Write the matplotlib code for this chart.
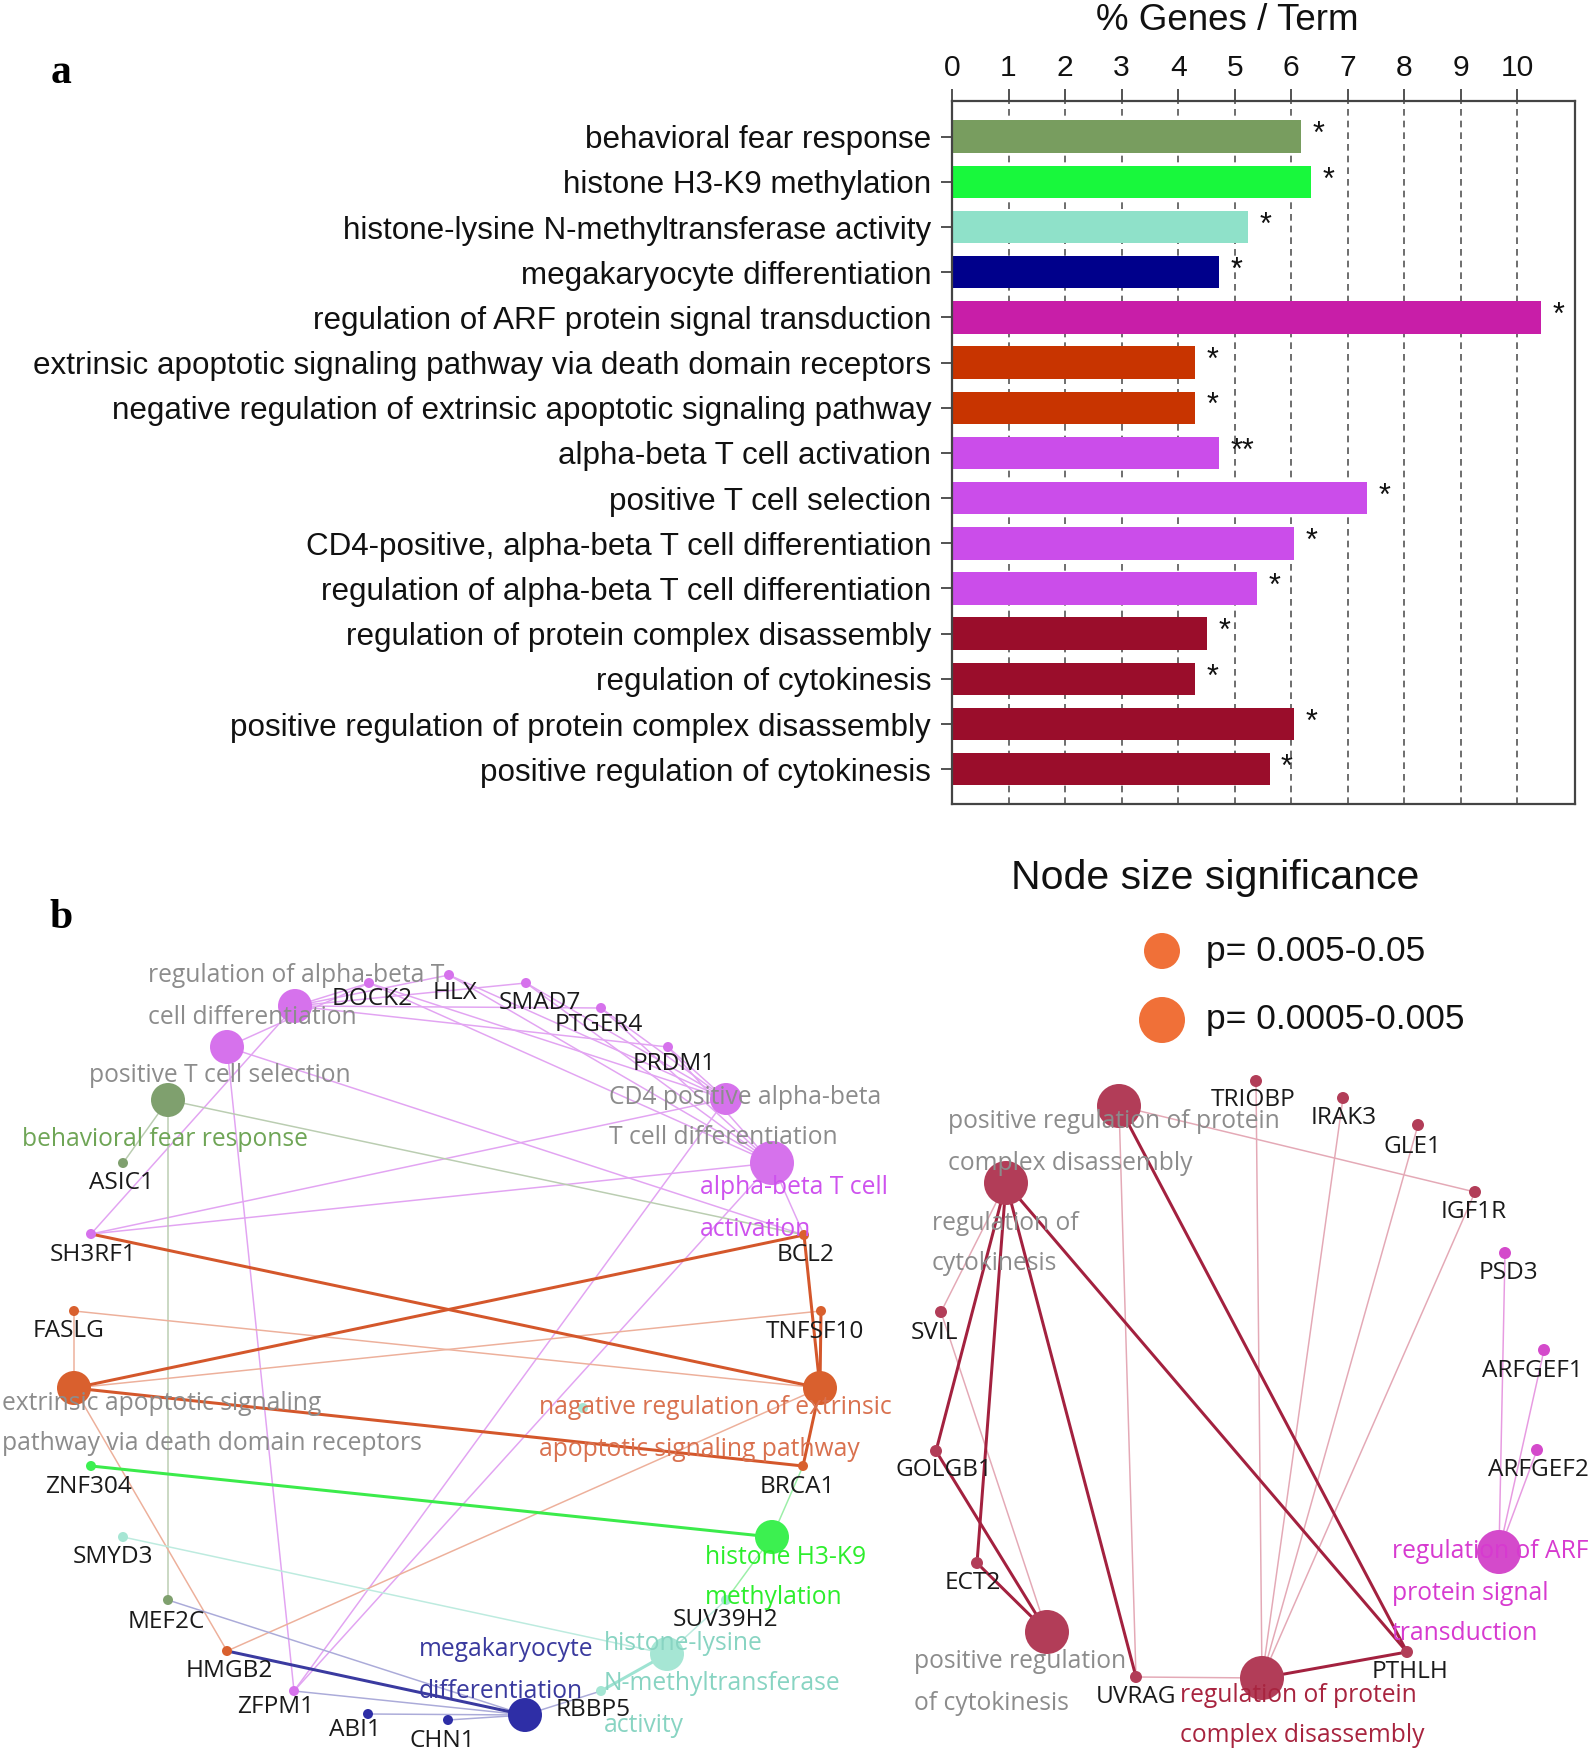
import matplotlib
matplotlib.use("Agg")
import matplotlib.pyplot as plt
import numpy as np

W, H, DPI = 1594, 1752, 100

# ---------------- Panel a data ----------------
terms = [
    "behavioral fear response",
    "histone H3-K9 methylation",
    "histone-lysine N-methyltransferase activity",
    "megakaryocyte differentiation",
    "regulation of ARF protein signal transduction",
    "extrinsic apoptotic signaling pathway via death domain receptors",
    "negative regulation of extrinsic apoptotic signaling pathway",
    "alpha-beta T cell activation",
    "positive T cell selection",
    "CD4-positive, alpha-beta T cell differentiation",
    "regulation of alpha-beta T cell differentiation",
    "regulation of protein complex disassembly",
    "regulation of cytokinesis",
    "positive regulation of protein complex disassembly",
    "positive regulation of cytokinesis",
]
pct_genes = [6.18, 6.35, 5.24, 4.73, 10.42, 4.30, 4.30, 4.73, 7.34, 6.05, 5.40, 4.51, 4.30, 6.05, 5.62]
stars = ["*", "*", "*", "*", "*", "*", "*", "**", "*", "*", "*", "*", "*", "*", "*"]
bar_colors = ["#789D5F", "#18F83C", "#8FE1C9", "#00008B", "#C81EA8", "#C83400", "#C83400",
              "#CB4DEA", "#CB4DEA", "#CB4DEA", "#CB4DEA", "#9A0D2B", "#9A0D2B", "#9A0D2B", "#9A0D2B"]
xticks = list(range(11))

# ---------------- Panel b data (network layout, pixel coordinates) ----------------
term_ids = ["reg_ab", "pos_T", "behav", "CD4", "ab_act", "extr", "neg", "h3k9", "hlys", "mega",
            "pos_reg_pcd", "reg_cyto", "pos_reg_cyto", "reg_pcd", "reg_ARF"]
term_x = [295, 227, 168, 726, 772, 74, 820, 772, 667, 525, 1119, 1006, 1047, 1262, 1499]
term_y = [1006, 1047, 1100, 1099, 1163, 1388, 1388, 1537, 1654, 1715, 1106, 1183, 1632, 1678, 1552]
term_r = [17, 17, 17, 16, 22, 17, 17, 17, 17, 17, 22, 22, 22, 22, 22]
term_node_col = ["#D672EC", "#D672EC", "#7FA06E", "#D672EC", "#D672EC", "#D9602E", "#D9602E",
                 "#3CF050", "#A6E6D4", "#2E2EA6", "#B23D58", "#B23D58", "#B23D58", "#B23D58", "#D44ACB"]
term_edge_col = ["#E2A4F2", "#E2A4F2", "#BACDB1", "#E2A4F2", "#E2A4F2", "#D4572B", "#D4572B",
                 "#3BEB4B", "#9EE3D2", "#3A3AA0", "#A3213F", "#A3213F", "#A3213F", "#A3213F", "#E79BE1"]
term_edge_light = ["#E2A4F2", "#E2A4F2", "#BACDB1", "#E2A4F2", "#E2A4F2", "#EDB09B", "#EDB09B",
                   "#9CEFA8", "#BDEBDF", "#ABABD9", "#E4A9B6", "#E4A9B6", "#E4A9B6", "#E4A9B6", "#E79BE1"]
term_lines = [
    ["regulation of alpha-beta T", "cell differentiation"],
    ["positive T cell selection"],
    ["behavioral fear response"],
    ["CD4 positive alpha-beta", "T cell differentiation"],
    ["alpha-beta T cell", "activation"],
    ["extrinsic apoptotic signaling", "pathway via death domain receptors"],
    ["nagative regulation of extrinsic", "apoptotic signaling pathway"],
    ["histone H3-K9", "methylation"],
    ["histone-lysine", "N-methyltransferase", "activity"],
    ["megakaryocyte", "differentiation"],
    ["positive regulation of protein", "complex disassembly"],
    ["regulation of", "cytokinesis"],
    ["positive regulation", "of cytokinesis"],
    ["regulation of protein", "complex disassembly"],
    ["regulation of ARF", "protein signal", "transduction"],
]
term_label_x = [148, 89, 22, 609, 700, 2, 539, 705, 604, 419, 948, 932, 914, 1180, 1392]
term_label_y = [976, 1076, 1139, 1097, 1188, 1403, 1408, 1557, 1643, 1650, 1122, 1223, 1662, 1695, 1552]
term_label_col = ["#8C8C8C", "#8C8C8C", "#6FA556", "#8C8C8C", "#CE52EE", "#8C8C8C", "#D9714F",
                  "#2CEE2C", "#88D4C2", "#3A3A9E", "#8C8C8C", "#8C8C8C", "#8C8C8C", "#A8243F", "#D73AD0"]

PUR, OLV, ORG, GRN, TEA, NAV, DRD, MAG = ("#D672EC", "#7FA06E", "#D9602E", "#3CF050",
                                          "#A6E6D4", "#2E2EA6", "#B23D58", "#D44ACB")
gene_ids = ["DOCK2", "HLX", "SMAD7", "PTGER4", "PRDM1", "ASIC1", "SH3RF1", "BCL2", "FASLG", "TNFSF10",
            "ZNF304", "BRCA1", "SMYD3", "MEF2C", "SUV39H2", "HMGB2", "ZFPM1", "ABI1", "CHN1", "RBBP5", "",
            "TRIOBP", "IRAK3", "GLE1", "IGF1R", "PSD3", "SVIL", "ARFGEF1", "ARFGEF2", "GOLGB1", "ECT2",
            "UVRAG", "PTHLH"]
gene_x = [369, 449, 526, 601, 668, 123, 91, 804, 74, 821,
          91, 803, 123, 168, 726, 227, 294, 368, 448, 601, 583,
          1256, 1343, 1418, 1475, 1505, 941, 1544, 1537, 936, 977,
          1136, 1407]
gene_y = [983, 975, 983, 1008, 1047, 1163, 1234, 1235, 1311, 1311,
          1466, 1466, 1537, 1600, 1600, 1651, 1691, 1714, 1720, 1691, 1408,
          1081, 1098, 1125, 1192, 1253, 1312, 1350, 1450, 1451, 1563,
          1677, 1652]
gene_col = [PUR, PUR, PUR, PUR, PUR, OLV, PUR, ORG, ORG, ORG,
            GRN, ORG, TEA, OLV, TEA, ORG, PUR, NAV, NAV, TEA, TEA,
            DRD, DRD, DRD, DRD, MAG, DRD, MAG, MAG, DRD, DRD,
            DRD, DRD]
gene_r = [5] * 21 + [6] * 12
gene_label_x = [372, 455, 540, 599, 674, 121, 93, 806, 69, 815,
                89, 797, 113, 166, 726, 229, 276, 355, 442, 593, 583,
                1253, 1344, 1412, 1474, 1508, 935, 1532, 1538, 944, 973,
                1136, 1410]
gene_label_y = [999, 993, 1003, 1025, 1064, 1183, 1255, 1255, 1331, 1332,
                1487, 1487, 1557, 1622, 1620, 1671, 1707, 1730, 1741, 1710, 1408,
                1100, 1118, 1147, 1212, 1273, 1333, 1371, 1470, 1470, 1583,
                1697, 1672]

edges = [
    ("reg_ab", "DOCK2", 0), ("reg_ab", "HLX", 0), ("reg_ab", "SMAD7", 0), ("reg_ab", "PTGER4", 0),
    ("reg_ab", "PRDM1", 0), ("reg_ab", "SH3RF1", 0),
    ("pos_T", "DOCK2", 0), ("pos_T", "BCL2", 0), ("pos_T", "ZFPM1", 0),
    ("CD4", "DOCK2", 0), ("CD4", "HLX", 0), ("CD4", "SMAD7", 0), ("CD4", "PTGER4", 0), ("CD4", "PRDM1", 0),
    ("CD4", "SH3RF1", 0), ("CD4", "ZFPM1", 0),
    ("ab_act", "DOCK2", 0), ("ab_act", "HLX", 0), ("ab_act", "SMAD7", 0), ("ab_act", "PTGER4", 0),
    ("ab_act", "PRDM1", 0), ("ab_act", "SH3RF1", 0), ("ab_act", "ZFPM1", 0), ("ab_act", "BCL2", 0),
    ("behav", "ASIC1", 0), ("behav", "MEF2C", 0), ("behav", "BCL2", 0),
    ("extr", "FASLG", 0), ("extr", "BCL2", 1), ("extr", "TNFSF10", 0), ("extr", "BRCA1", 1), ("extr", "HMGB2", 0),
    ("neg", "SH3RF1", 1), ("neg", "FASLG", 0), ("neg", "BCL2", 1), ("neg", "TNFSF10", 1), ("neg", "BRCA1", 1),
    ("neg", "HMGB2", 0),
    ("h3k9", "ZNF304", 1), ("h3k9", "BRCA1", 0), ("h3k9", "SUV39H2", 0),
    ("hlys", "SMYD3", 0), ("hlys", "SUV39H2", 0), ("hlys", "RBBP5", 1),
    ("mega", "MEF2C", 0), ("mega", "HMGB2", 1), ("mega", "ZFPM1", 0), ("mega", "ABI1", 0),
    ("mega", "CHN1", 0), ("mega", "RBBP5", 0),
    ("reg_cyto", "SVIL", 0), ("reg_cyto", "GOLGB1", 1), ("reg_cyto", "ECT2", 1), ("reg_cyto", "UVRAG", 1),
    ("reg_cyto", "PTHLH", 1),
    ("pos_reg_cyto", "SVIL", 0), ("pos_reg_cyto", "GOLGB1", 1), ("pos_reg_cyto", "ECT2", 1),
    ("pos_reg_pcd", "UVRAG", 0), ("pos_reg_pcd", "PTHLH", 1), ("pos_reg_pcd", "IGF1R", 0),
    ("reg_pcd", "TRIOBP", 0), ("reg_pcd", "IRAK3", 0), ("reg_pcd", "GLE1", 0), ("reg_pcd", "IGF1R", 0),
    ("reg_pcd", "UVRAG", 0), ("reg_pcd", "PTHLH", 1),
    ("reg_ARF", "PSD3", 0), ("reg_ARF", "ARFGEF1", 0), ("reg_ARF", "ARFGEF2", 0),
]

legend_labels = ["p= 0.005-0.05", "p= 0.0005-0.005"]
legend_r = [18, 23]

# ---------------- Figure ----------------
fig = plt.figure(figsize=(W / DPI, H / DPI), dpi=DPI)
fig.patch.set_facecolor("white")

net = fig.add_axes([0, 0, 1, 1], zorder=0)
net.set_xlim(0, W)
net.set_ylim(H, 0)
net.axis("off")
net.patch.set_alpha(0)

px2pt = 72.0 / DPI
tpos = {t: (x, y) for t, x, y in zip(term_ids, term_x, term_y)}
gpos = {g: (x, y) for g, x, y in zip(gene_ids, gene_x, gene_y) if g}
tcol = dict(zip(term_ids, term_edge_col))
tcol_l = dict(zip(term_ids, term_edge_light))

for t, g, thick in edges:
    x0, y0 = tpos[t]
    x1, y1 = gpos[g]
    if thick:
        net.plot([x0, x1], [y0, y1], color=tcol[t], lw=3.0 * px2pt, zorder=2, solid_capstyle="round")
    else:
        net.plot([x0, x1], [y0, y1], color=tcol_l[t], lw=1.5 * px2pt, zorder=1, solid_capstyle="round")

net.scatter(gene_x, gene_y, s=[(2 * r * px2pt) ** 2 for r in gene_r], c=gene_col, linewidths=0, zorder=3)
net.scatter(term_x, term_y, s=[(2 * r * px2pt) ** 2 for r in term_r], c=term_node_col, linewidths=0, zorder=3)

net_font = ["Open Sans", "DejaVu Sans"]
for gx, gy, g in zip(gene_label_x, gene_label_y, gene_ids):
    if g:
        net.text(gx, gy, g, ha="center", va="center", fontsize=17.6, color="#1A1A1A",
                 family=net_font, zorder=5)

LINE_GAP = 41
for lines, lx, ly, lc in zip(term_lines, term_label_x, term_label_y, term_label_col):
    for k, ln in enumerate(lines):
        net.text(lx, ly + k * LINE_GAP, ln, ha="left", va="center", fontsize=17.7, color=lc,
                 family=net_font, zorder=5)

# legend
net.text(1215, 878, "Node size significance", ha="center", va="center", fontsize=29.5,
         family=["Liberation Sans", "DejaVu Sans"], color="#111111")
leg_y = [951, 1020]
net.scatter([1162, 1162], leg_y, s=[(2 * r * px2pt) ** 2 for r in legend_r], c="#F07038",
            linewidths=0, zorder=3)
for yy, lab in zip(leg_y, legend_labels):
    net.text(1206, yy, lab, ha="left", va="center", fontsize=25.5,
             family=["Liberation Sans", "DejaVu Sans"], color="#111111")

# panel letters
fig.text(61 / W, 1 - 73 / H, "a", ha="center", va="center", fontsize=30, fontweight="bold",
         family=["Liberation Serif", "DejaVu Serif"])
fig.text(61 / W, 1 - 918 / H, "b", ha="center", va="center", fontsize=30, fontweight="bold",
         family=["Liberation Serif", "DejaVu Serif"])

# ---------------- bar chart ----------------
L, R, T, B = 952, 1575, 101, 804
ax = fig.add_axes([L / W, 1 - B / H, (R - L) / W, (B - T) / H], zorder=2)
ypos = np.arange(len(terms))
ax.barh(ypos, pct_genes, height=0.72, color=bar_colors, zorder=2)
ax.set_ylim(14.77, -0.79)
ax.set_xlim(0, 11.02)
ax.xaxis.tick_top()
ax.set_xticks(xticks)
ax.set_xticklabels([str(v) for v in xticks], family=["Liberation Sans", "DejaVu Sans"])
ax.set_yticks(ypos)
ax.set_yticklabels(terms, family=["Liberation Sans", "DejaVu Sans"])
ax.tick_params(axis="x", length=8.5, width=1.3, labelsize=21.6, pad=5, color="#444444", labelcolor="#111111")
ax.tick_params(axis="y", length=8, width=1.3, labelsize=22.6, pad=7, color="#444444", labelcolor="#111111")
ax.grid(axis="x", linestyle=(0, (4, 3)), color="#555555", lw=1.2)
ax.set_axisbelow(True)
for sp in ax.spines.values():
    sp.set_linewidth(1.6)
    sp.set_color("#444444")
for i, (v, s) in enumerate(zip(pct_genes, stars)):
    ax.annotate(s, (v, i), xytext=(8, 1), textcoords="offset points", ha="left", va="center",
                fontsize=22, family=["Liberation Sans", "DejaVu Sans"], color="#111111")

fig.text(1227 / W, 1 - 21 / H, "% Genes / Term", ha="center", va="center", fontsize=26.5,
         family=["Liberation Sans", "DejaVu Sans"], color="#111111")

fig.savefig("out.png", dpi=DPI, facecolor="white")
